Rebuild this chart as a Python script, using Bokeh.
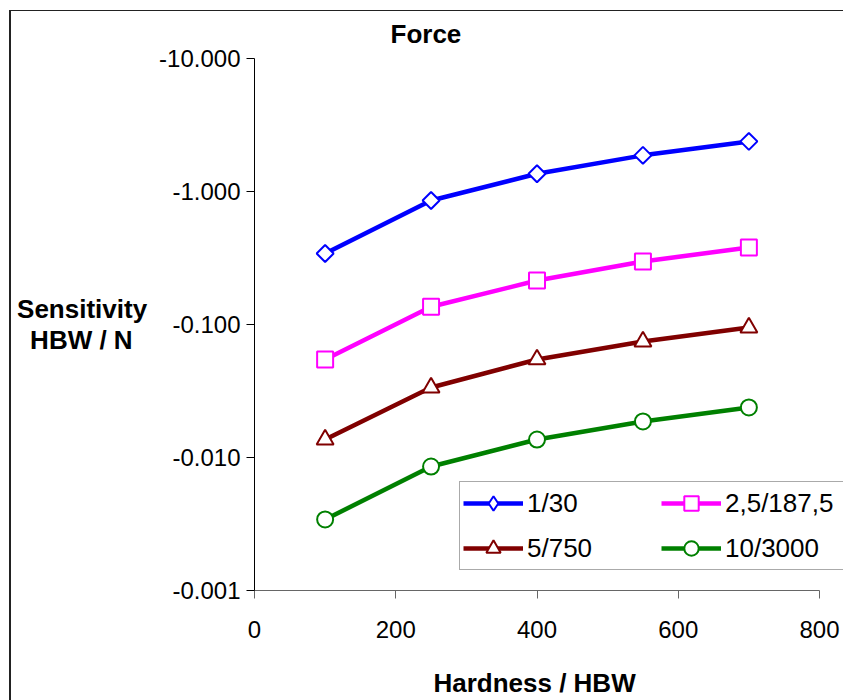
from bokeh.plotting import figure
from bokeh.models import Range1d, FixedTicker, CustomJSTickFormatter, Legend, LegendItem
from bokeh.embed import file_html
from bokeh.resources import INLINE
import math

# ---- data ----
hardness = [100, 250, 400, 550, 700]
sens_1_30 = [0.342, 0.855, 1.36, 1.87, 2.38]
sens_2_5_187_5 = [0.0546, 0.136, 0.214, 0.298, 0.379]
sens_5_750 = [0.01365, 0.0336, 0.0546, 0.0745, 0.0949]
sens_10_3000 = [0.00342, 0.00855, 0.01365, 0.01866, 0.02377]
series_names = ["1/30", "2,5/187,5", "5/750", "10/3000"]
x_ticks = [0, 200, 400, 600, 800]
y_ticks = [0.001, 0.01, 0.1, 1, 10]

series = [sens_1_30, sens_2_5_187_5, sens_5_750, sens_10_3000]
colors = ["#0000FF", "#FF00FF", "#800000", "#008000"]
markers = ["square", "square", "triangle", "circle"]
legend_markers = ["diamond", "square", "triangle", "circle"]
sizes = [12, 16, 17, 16]
angles = [math.pi / 4, 0, 0, 0]

FONT = "Liberation Sans"
NBSP = "\u00a0"

# plot frame runs on to the right edge of the page; the x axis itself stops at 800
FRAME_W = 589
AXIS_W = 565
p = figure(frame_width=FRAME_W, frame_height=532,
           min_border_left=254, min_border_right=0,
           min_border_top=58, min_border_bottom=110,
           y_axis_type="log",
           x_range=Range1d(0, x_ticks[-1] * FRAME_W / AXIS_W),
           y_range=Range1d(y_ticks[0], y_ticks[-1]),
           output_backend="svg", toolbar_location=None,
           title="Force")

p.border_fill_alpha = 0
p.background_fill_color = "white"
p.outline_line_color = None
p.xgrid.visible = False
p.ygrid.visible = False
p.styles = {"box-shadow": "inset 9px 10px 0 0 white, inset 11px 11px 0 0 #222",
            "background-color": "white"}

# title
p.title.text_font = FONT
p.title.text_font_size = "26px"
p.title.text_font_style = "bold"
p.title.text_color = "black"
p.title.align = "left"
p.title.offset = 136
p.title.standoff = 19

# x axis (label padded so it centres over the 0-800 axis, not the wider frame)
xa = p.xaxis[0]
xa.bounds = (x_ticks[0], x_ticks[-1])
xa.ticker = FixedTicker(ticks=x_ticks)
xa.axis_label = "Hardness / HBW" + NBSP * 4
xa.axis_label_text_font = FONT
xa.axis_label_text_font_size = "26px"
xa.axis_label_text_font_style = "bold"
xa.axis_label_text_color = "black"
xa.axis_label_standoff = 27
xa.major_label_text_font = FONT
xa.major_label_text_font_size = "24px"
xa.major_label_text_color = "black"
xa.major_label_standoff = 22
xa.axis_line_color = "#666666"
xa.major_tick_line_color = "#666666"
xa.major_tick_out = 8
xa.major_tick_in = 0
xa.minor_tick_line_color = None

# y axis
ya = p.yaxis[0]
ya.ticker = FixedTicker(ticks=y_ticks)
ya.formatter = CustomJSTickFormatter(code="return '-' + tick.toFixed(3);")
ya.axis_label = "Sensitivity\nHBW / N" + NBSP * 2
ya.axis_label_orientation = "horizontal"
ya.axis_label_text_font = FONT
ya.axis_label_text_font_size = "26px"
ya.axis_label_text_font_style = "bold"
ya.axis_label_text_color = "black"
ya.axis_label_text_line_height = 1.05
ya.axis_label_standoff = 9
ya.major_label_text_font = FONT
ya.major_label_text_font_size = "24px"
ya.major_label_text_color = "black"
ya.major_label_standoff = 6
ya.axis_line_color = "black"
ya.major_tick_line_color = "black"
ya.major_tick_out = 8
ya.major_tick_in = 0
ya.minor_tick_line_color = None

items = {}
for name, ys, c, m, lm, s, a in zip(series_names, series, colors, markers,
                                     legend_markers, sizes, angles):
    rl = p.line(hardness, ys, line_color=c, line_width=4.5)
    rs = p.scatter(hardness, ys, marker=m, size=s, angle=a,
                   fill_color="white", line_color=c, line_width=2)
    if lm != m:
        # legend-only glyph (hidden in the plot) so the key shows a diamond
        rk = p.scatter(hardness, ys, marker=lm, size=s, visible=False,
                       fill_color="white", line_color=c, line_width=2)
        items[name] = LegendItem(label=name, renderers=[rl, rk])
    else:
        items[name] = LegendItem(label=name, renderers=[rl, rs])

# legend fills column by column: first column holds 1/30 and 5/750
legend_order = ["1/30", "5/750", "2,5/187,5", "10/3000"]
legend = Legend(items=[items[n] for n in legend_order], ncols=2, location=(205, 20),
                label_text_font=FONT, label_text_font_size="26px",
                label_text_color="black",
                glyph_width=60, glyph_height=36, label_width=125, label_standoff=4,
                spacing=9, padding=3, margin=0,
                inactive_fill_alpha=0,
                border_line_color="#555555", border_line_width=1,
                background_fill_color="white", background_fill_alpha=1)
p.add_layout(legend)

open("out.html", "w").write(file_html(p, INLINE))
